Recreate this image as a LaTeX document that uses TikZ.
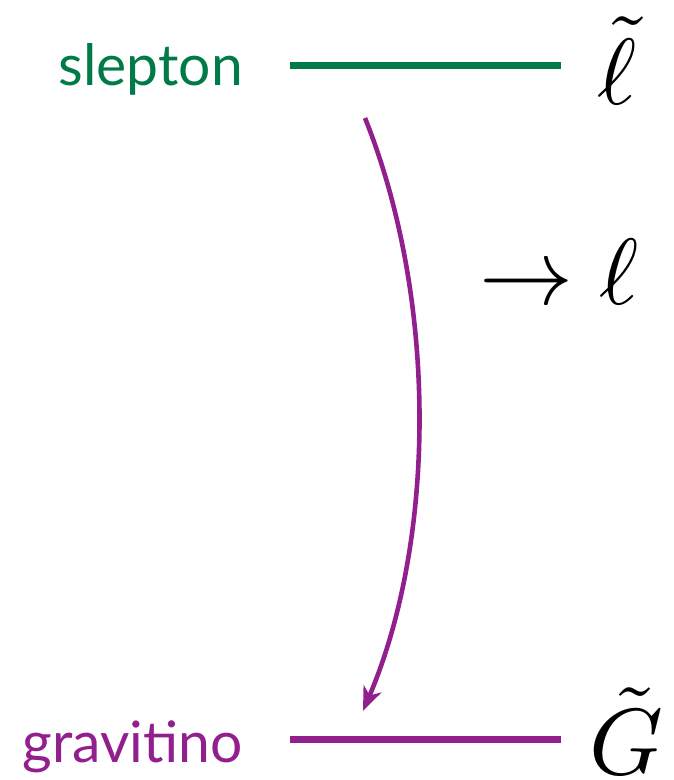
\documentclass[tikz,border=0pt]{standalone}
\usepackage{fontspec}
\setmainfont{Lato}
\usetikzlibrary{arrows.meta}
\definecolor{sgreen}{HTML}{007A47}
\definecolor{gpurple}{HTML}{921F8E}
\begin{document}
\begin{tikzpicture}[x=1pt,y=-1pt,
  level/.style={line width=7pt},
  lbl/.style={inner sep=0pt,font=\fontsize{57}{62}\selectfont},
  sym/.style={inner sep=0pt,scale=9.4}]
\useasboundingbox (0,0) rectangle (674,780);
% levels
\coordinate (s1) at (290,65);
\coordinate (s2) at (561,65);
\coordinate (g1) at (290,739);
\coordinate (g2) at (561,739);
\draw[level,sgreen] (s1) -- (s2);
\draw[level,gpurple] (g1) -- (g2);
% labels
\node[lbl,text=sgreen,anchor=base east] (sl) at (243,85) {slepton};
\node[lbl,text=gpurple,anchor=base east] (gr) at (243,762) {gravitino};
\node[sym,anchor=base west] (lt) at (596,104) {$\tilde\ell$};
\node[sym,anchor=base west] (Gt) at (588,774) {$\tilde G$};
\node[sym,anchor=base west] (dec) at (478,304) {$\to\ell$};
% decay arrow
\coordinate (a1) at (365,118);
\coordinate (a2) at (363,711);
\draw[gpurple,line width=4.6pt,-{Stealth[length=24pt,width=19pt,inset=7pt]}]
  (a1) .. controls (438,300) and (436,540) .. (a2);
\end{tikzpicture}
\end{document}
